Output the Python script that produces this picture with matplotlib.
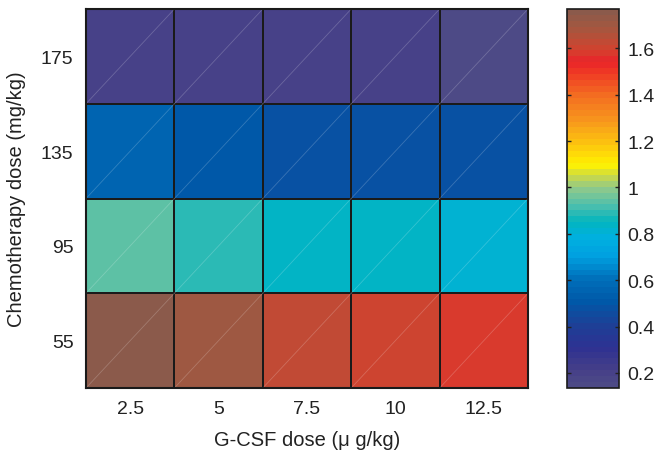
import numpy as np
import matplotlib
matplotlib.use("Agg")
import matplotlib.pyplot as plt
from matplotlib.colors import LinearSegmentedColormap, Normalize

plt.rcParams['font.family'] = ['Liberation Sans', 'DejaVu Sans']

gcsf_labels = ['2.5', '5', '7.5', '10', '12.5']
chemo_labels = ['55', '95', '135', '175']
# rows: chemo 55, 95, 135, 175 ; cols: G-CSF 2.5..12.5
values = np.array([
    [1.76, 1.70, 1.63, 1.60, 1.57],
    [0.95, 0.88, 0.84, 0.835, 0.80],
    [0.55, 0.50, 0.49, 0.47, 0.48],
    [0.20, 0.20, 0.20, 0.19, 0.16],
])
vmin, vmax = 0.135, 1.77
cbar_ticks = [0.2, 0.4, 0.6, 0.8, 1.0, 1.2, 1.4, 1.6]
cbar_ticklabels = ['0.2', '0.4', '0.6', '0.8', '1', '1.2', '1.4', '1.6']

stops = [
    (0.135, '#4d4a86'), (0.2, '#453f88'), (0.3, '#2e3192'), (0.4, '#1d4096'),
    (0.5, '#0058a8'), (0.6, '#0070ba'), (0.7, '#00a0e0'), (0.78, '#00b0e0'),
    (0.85, '#03b5be'), (0.92, '#4dbfae'), (1.0, '#90c98a'), (1.05, '#c8d84a'),
    (1.1, '#fff200'), (1.2, '#fcc010'), (1.3, '#f7941d'), (1.4, '#f36f21'),
    (1.5, '#ef3b24'), (1.55, '#e9232a'), (1.6, '#d4412e'), (1.7, '#a4573f'),
    (1.77, '#8b5a4b'),
]
pos = [(v - vmin) / (vmax - vmin) for v, _ in stops]
cmap = LinearSegmentedColormap.from_list('custom', list(zip(pos, [c for _, c in stops])), N=64)
norm = Normalize(vmin=vmin, vmax=vmax)

fig = plt.figure(figsize=(6.58, 4.56), dpi=100)
ax = fig.add_axes([86/658, 1 - 389/456, (528-86)/658, (389-10)/456])
cax = fig.add_axes([567/658, 1 - 389/456, (619-567)/658, (389-10)/456])

ncol = len(gcsf_labels)
nrow = len(chemo_labels)
mesh = ax.pcolormesh(np.arange(ncol + 1), np.arange(nrow + 1), values, cmap=cmap, norm=norm,
                     edgecolors='#1a1a1a', linewidth=1.2)
# faint diagonal rendering artifacts in each cell
for i in range(nrow):
    for j in range(ncol):
        ax.plot([j, j + 1], [i, i + 1], color='white', alpha=0.2, lw=0.6)

ax.set_xlim(0, ncol)
ax.set_ylim(0, nrow)
ax.set_xticks(np.arange(ncol) + 0.5)
ax.set_xticklabels(gcsf_labels)
ax.set_yticks(np.arange(nrow) + 0.5)
ax.set_yticklabels(chemo_labels)
ax.tick_params(length=0, labelsize=14, colors='#222222', pad=9)
ax.set_xlabel('G-CSF dose (\u03bc g/kg)', fontsize=14.5, color='#222222', labelpad=9)
ax.set_ylabel('Chemotherapy dose (mg/kg)', fontsize=14.5, color='#222222', labelpad=11)
for s in ax.spines.values():
    s.set_linewidth(1.5)
    s.set_color('#1a1a1a')

cb = fig.colorbar(mesh, cax=cax)
cb.set_ticks(cbar_ticks)
cb.set_ticklabels(cbar_ticklabels)
cax.tick_params(direction='in', length=3, width=1, labelsize=14, colors='#222222',
                left=True, right=True, pad=6)
cb.outline.set_linewidth(1.2)
cb.outline.set_edgecolor('#1a1a1a')

fig.savefig('out.png', dpi=100)
